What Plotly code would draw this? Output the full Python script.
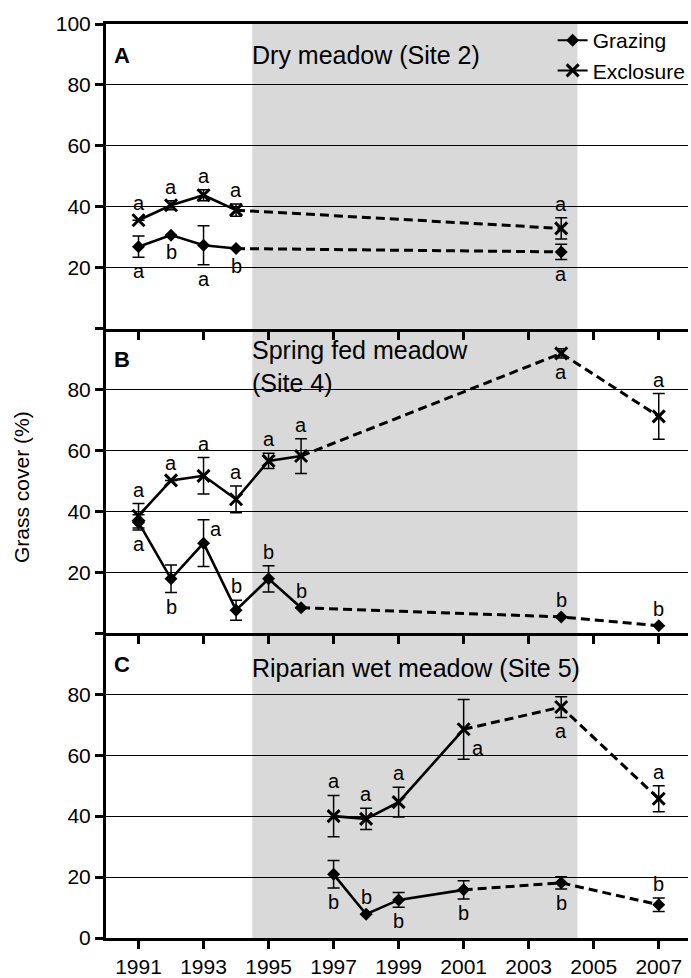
import plotly.graph_objects as go
from plotly.subplots import make_subplots

# ---------------- data ----------------
tick_years = [1991, 1993, 1995, 1997, 1999, 2001, 2003, 2005, 2007]
shade_start, shade_end = 1994.5, 2004.5

# Panel A  - Dry meadow (Site 2)
years_a = [1991, 1992, 1993, 1994, 2004]
grazing_a = [26.9, 30.7, 27.4, 26.3, 25.2]
grazing_a_se = [3.5, 0, 6.4, 0, 2.5]
grazing_a_sig = ["a", "b", "a", "b", "a"]
exclosure_a = [35.6, 40.5, 43.8, 38.9, 32.9]
exclosure_a_se = [0, 1.5, 1.8, 2.0, 3.5]
exclosure_a_sig = ["a", "a", "a", "a", "a"]

# Panel B  - Spring fed meadow (Site 4)
years_b = [1991, 1992, 1993, 1994, 1995, 1996, 2004, 2007]
grazing_b = [36.4, 17.9, 29.6, 7.6, 17.9, 8.4, 5.4, 2.5]
grazing_b_se = [2.5, 4.5, 7.7, 3.3, 4.3, 0, 0, 0]
grazing_b_sig = ["a", "b", "a", "b", "b", "b", "b", "b"]
exclosure_b = [38.6, 50.2, 51.7, 44.0, 56.6, 58.2, 91.9, 71.2]
exclosure_b_se = [4.0, 0, 6.0, 4.4, 2.5, 5.7, 1.5, 7.5]
exclosure_b_sig = ["a", "a", "a", "a", "a", "a", "a", "a"]

# Panel C  - Riparian wet meadow (Site 5)
years_c = [1997, 1998, 1999, 2001, 2004, 2007]
grazing_c = [20.9, 7.8, 12.5, 15.8, 18.1, 10.9]
grazing_c_se = [4.5, 0, 2.4, 3.0, 2.0, 2.2]
grazing_c_sig = ["b", "b", "b", "b", "b", "b"]
exclosure_c = [40.0, 39.1, 44.6, 68.5, 75.8, 45.7]
exclosure_c_se = [6.8, 3.5, 4.9, 9.8, 3.4, 4.3]
exclosure_c_sig = ["a", "a", "a", "a", "a", "a"]

panel_titles = ["Dry meadow (Site 2)", "Spring fed meadow<br>(Site 4)", "Riparian wet meadow (Site 5)"]
panel_letters = ["A", "B", "C"]
last_annual_year = [1994, 1996, 2001]   # solid line up to here, dashed afterwards

# ---------------- styling ----------------
FONT = "Liberation Sans, Arial, Helvetica, sans-serif"
BLACK = "black"
DASH = "9px,5px"

# letter placement codes: u = above, d = below, ru = right/up, rd = right/down
sides = {
    ("g", 1): ["d", "d", "d", "d", "d"],
    ("e", 1): ["u", "u", "u", "u", "u"],
    ("g", 2): ["d", "d", "ru", "u", "u", "u", "u", "u"],
    ("e", 2): ["u", "u", "u", "u", "u", "u", "d", "u"],
    ("g", 3): ["d", "u", "d", "d", "d", "u"],
    ("e", 3): ["u", "u", "u", "rd", "d", "u"],
}
title_y = [89.7, 87.7, 88.6]

fig = make_subplots(rows=3, cols=1, shared_xaxes=True, vertical_spacing=0)


def add_series(row, years, vals, errs, letters, kind):
    split = years.index(last_annual_year[row - 1])
    if kind == "g":
        marker = dict(symbol="diamond", size=10, color=BLACK)
    else:
        marker = dict(symbol="x-thin", size=12, color=BLACK, line=dict(width=3, color=BLACK))
    fig.add_trace(go.Scatter(x=years[:split + 1], y=vals[:split + 1], mode="lines",
                             line=dict(color=BLACK, width=2.6), showlegend=False,
                             hoverinfo="skip"), row=row, col=1)
    fig.add_trace(go.Scatter(x=years[split:], y=vals[split:], mode="lines",
                             line=dict(color=BLACK, width=3, dash=DASH), showlegend=False,
                             hoverinfo="skip"), row=row, col=1)
    fig.add_trace(go.Scatter(x=years, y=vals, mode="markers", marker=marker, showlegend=False,
                             error_y=dict(type="data", array=errs, symmetric=True,
                                          color=BLACK, thickness=1.5, width=6)),
                  row=row, col=1)
    for x, v, e, t, s in zip(years, vals, errs, letters, sides[(kind, row)]):
        gap = 14 if e else 17
        kw = dict(xanchor="center", xshift=0)
        if s == "u":
            y, ysh = v + e, gap
        elif s == "d":
            y, ysh = v - e, -gap
        elif s == "ru":
            y, ysh = v, 14
            kw = dict(xanchor="left", xshift=4)
        else:
            y, ysh = v, -19
            kw = dict(xanchor="left", xshift=6)
        fig.add_annotation(x=x, y=y, text=t, showarrow=False, yanchor="middle", yshift=ysh,
                           font=dict(family=FONT, size=20, color=BLACK), row=row, col=1, **kw)


add_series(1, years_a, grazing_a, grazing_a_se, grazing_a_sig, "g")
add_series(1, years_a, exclosure_a, exclosure_a_se, exclosure_a_sig, "e")
add_series(2, years_b, grazing_b, grazing_b_se, grazing_b_sig, "g")
add_series(2, years_b, exclosure_b, exclosure_b_se, exclosure_b_sig, "e")
add_series(3, years_c, grazing_c, grazing_c_se, grazing_c_sig, "g")
add_series(3, years_c, exclosure_c, exclosure_c_se, exclosure_c_sig, "e")

# shaded period (drawn below the gridlines)
for r in (1, 2, 3):
    fig.add_vrect(x0=shade_start, x1=shade_end, fillcolor="#d9d9d9", opacity=1, line_width=0,
                  layer="below", row=r, col=1, exclude_empty_subplots=False)

# legend entries
fig.add_trace(go.Scatter(x=[None], y=[None], mode="lines+markers", name="Grazing",
                         line=dict(color=BLACK, width=2),
                         marker=dict(symbol="diamond", size=10, color=BLACK)), row=1, col=1)
fig.add_trace(go.Scatter(x=[None], y=[None], mode="lines+markers", name="Exclosure",
                         line=dict(color=BLACK, width=2),
                         marker=dict(symbol="x-thin", size=12, color=BLACK,
                                     line=dict(width=3, color=BLACK))), row=1, col=1)

# panel titles and letters
for r in (1, 2, 3):
    fig.add_annotation(x=shade_start, y=title_y[r - 1], text=panel_titles[r - 1],
                       showarrow=False, xanchor="left", yanchor="middle", align="left", xshift=-2,
                       font=dict(family=FONT, size=25, color=BLACK), row=r, col=1)
    fig.add_annotation(x=0, xref=f"x{'' if r == 1 else r} domain", y=89.8,
                       yref=f"y{'' if r == 1 else r}", text=f"<b>{panel_letters[r - 1]}</b>",
                       showarrow=False, xanchor="left", yanchor="middle", xshift=6,
                       font=dict(family=FONT, size=22, color=BLACK))

# y-axis title
fig.add_annotation(x=0, xref="paper", y=0.5, yref="paper", text="Grass cover (%)",
                   textangle=-90, showarrow=False, xanchor="center", yanchor="middle",
                   xshift=-85, yshift=-6, font=dict(family=FONT, size=21, color=BLACK))

fig.update_xaxes(range=[1990, 2007.9], tickvals=tick_years, ticks="outside", ticklen=8,
                 tickwidth=2.5, tickcolor=BLACK, showline=True, linewidth=3, linecolor=BLACK,
                 showgrid=False, zeroline=False, tickfont=dict(family=FONT, size=21, color=BLACK))
fig.update_xaxes(mirror=True, row=1, col=1)

fig.update_yaxes(range=[0, 100], ticks="outside", ticklen=8, tickwidth=2.5, tickcolor=BLACK,
                 showline=True, linewidth=3, linecolor=BLACK, showgrid=True, gridcolor=BLACK,
                 gridwidth=1.2, zeroline=False, tickfont=dict(family=FONT, size=21, color=BLACK))
fig.update_yaxes(tickvals=[0, 20, 40, 60, 80, 100], ticktext=["", "20", "40", "60", "80", "100"],
                 row=1, col=1)
fig.update_yaxes(tickvals=[0, 20, 40, 60, 80], ticktext=["", "20", "40", "60", "80"], row=2, col=1)
fig.update_yaxes(tickvals=[0, 20, 40, 60, 80], ticktext=["0", "20", "40", "60", "80"], row=3, col=1)

fig.update_layout(
    width=691, height=978,
    margin=dict(l=106, r=0, t=24, b=36),
    paper_bgcolor="white", plot_bgcolor="rgba(0,0,0,0)",
    font=dict(family=FONT, color=BLACK),
    showlegend=True,
    legend=dict(x=0.7674, y=1.0044, xanchor="left", yanchor="top", bgcolor="rgba(0,0,0,0)",
                font=dict(family=FONT, size=21, color=BLACK), tracegroupgap=0),
)

fig.write_html("out.html", config={"displayModeBar": False},
               post_script="document.body.style.margin='0px';")
